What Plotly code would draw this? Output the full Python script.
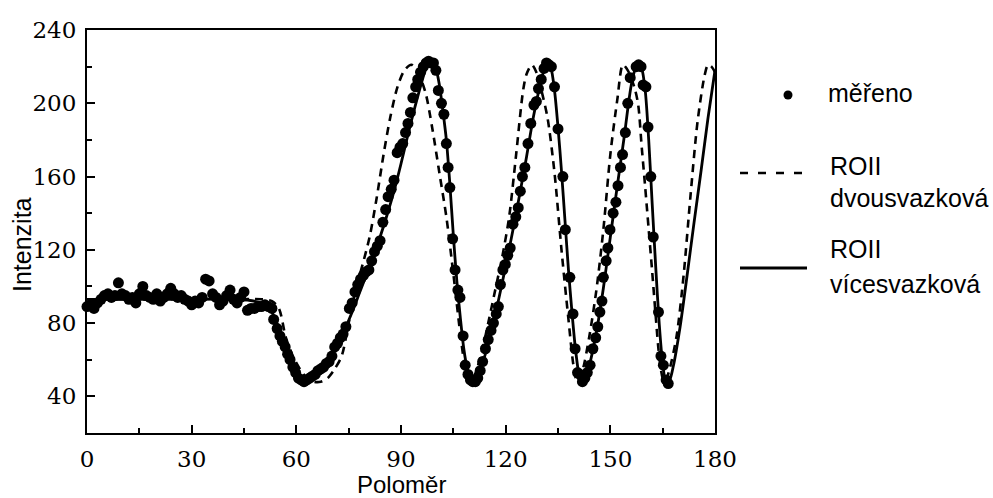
import plotly.graph_objects as go

# ---------------- data ----------------
measured_x = [
    0, 1, 2, 3, 4, 5, 6, 7, 8, 9,
    10, 11, 12, 13, 14, 15, 16, 17, 18, 19,
    20, 21, 22, 23, 24, 25, 26, 27, 28, 29,
    30, 31, 32, 33, 34, 35, 36, 37, 38, 39,
    40, 41, 42, 43, 44, 45, 46, 47, 48, 49,
    50, 51, 52, 53, 53.5, 54.5, 55.3, 56, 56.8, 57.5,
    58.2, 59, 59.8, 60.6, 61.4, 62.2, 63, 63.8, 64.6, 65.4,
    66.2, 67, 67.8, 68.6, 69.4, 70.2, 71, 71.8, 72.6, 73.4,
    74.2, 75.2, 76, 76.8, 77.6, 78.4, 79.2, 80, 80.8, 81.6,
    82.4, 83.2, 84, 84.8, 85.6, 86.3, 87.2, 88, 88.9, 89.7,
    90.5, 91.3, 92, 92.7, 93.4, 94.2, 94.8, 95.6, 96.4, 97.2,
    97.9, 98.6, 99.3, 100, 100.7, 101.6, 102.3, 103, 103.5, 104,
    104.8, 105.5, 106.3, 106.9, 107.8, 108.4, 109.2, 109.9, 110.6, 111.3,
    112, 112.7, 113.4, 114.2, 115, 115.8, 116.5, 117.3, 117.9, 118.5,
    119.2, 119.9, 120.6, 121.3, 122.1, 122.9, 123.6, 124.2, 124.8, 125.5,
    126.4, 127.2, 128.1, 128.8, 129.4, 130.2, 131, 131.7, 132.4, 133.1,
    134, 135, 136.4, 137.1, 138.4, 139.3, 139.9, 140.6, 141.3, 142,
    142.7, 143.4, 144.2, 145, 145.8, 146.4, 147, 147.6, 148, 148.8,
    149.3, 149.9, 150.8, 151.6, 152.2, 152.9, 153.5, 154.3, 155, 155.7,
    157.4, 158.1, 158.8, 159.4, 160.2, 160.8, 161.6, 162.3, 163.8, 164.5,
    165.2, 166, 166.6,
]
measured_y = [
    89, 90, 88, 91, 93, 95, 96, 94, 95, 102,
    96, 95, 93, 94, 91, 96, 100, 95, 94, 93,
    96, 92, 94, 96, 99, 96, 94, 95, 93, 92,
    90, 92, 91, 94, 104, 103, 96, 94, 90, 92,
    95, 98, 93, 91, 94, 97, 87, 88, 88, 89,
    89, 90, 89, 88, 82, 77, 73, 70, 67, 63,
    60, 56, 53, 50, 49, 48, 49, 50, 51, 52,
    54, 55, 56, 58, 59, 62, 67, 69, 72, 74,
    78, 88, 91, 97, 101, 104, 106, 108, 109, 114,
    119, 122, 125, 135, 142, 149, 153, 158, 173, 176,
    178, 184, 189, 195, 203, 209, 213, 217, 220, 222,
    223, 222, 222, 218, 207, 200, 194, 178, 165, 154,
    126, 109, 98, 94, 73, 57, 52, 49, 48, 48,
    50, 54, 59, 66, 71, 76, 80, 85, 89, 101,
    109, 112, 117, 121, 134, 138, 143, 152, 160, 165,
    178, 189, 199, 201, 208, 213, 219, 222, 221, 220,
    209, 186, 160, 131, 105, 85, 66, 53, 52, 48,
    50, 53, 57, 66, 72, 78, 86, 92, 105, 114,
    121, 131, 140, 146, 155, 165, 172, 184, 200, 214,
    220, 221, 220, 210, 209, 187, 160, 127, 86, 62,
    57, 49, 47,
]

# ROII two-beam model (dashed)
dvou_x = [0, 10, 20, 30, 40, 50, 53, 55, 57, 59, 61, 63, 65, 67, 69, 71, 73, 75, 77, 79,
          81, 83, 85, 87, 89, 91, 93, 95, 97, 99, 101, 103, 105, 107, 108, 109, 110, 111,
          113, 115, 117, 119, 121, 123, 125, 126, 127.5, 129, 130, 132, 134, 136, 138,
          139.5, 140.5, 142, 144, 146, 148, 150, 152, 153.6, 155, 157, 158, 159, 160, 161,
          162, 163, 164, 165, 165.7, 167, 169, 171, 173, 175, 177, 178, 179, 180]
dvou_y = [93, 93, 93, 93, 93, 93, 92, 88, 72, 62, 55, 50, 48, 48, 50, 55, 62, 80, 98, 112,
          127, 148, 172, 193, 209, 218, 221, 216, 206, 186, 162, 138, 107, 74, 60, 50, 48, 51,
          63, 80, 98, 116, 138, 172, 207, 216, 221, 216, 209, 192, 162, 120, 82,
          56, 48, 54, 73, 98, 131, 172, 202, 221, 218, 208, 199, 176, 154, 131,
          108, 84, 62, 50, 48, 55, 73, 106, 150, 190, 215, 221, 220, 217]

# ROII multi-beam model (solid)
vice_x = [0, 10, 20, 30, 40, 46, 50, 52, 54, 56, 58, 60, 61, 62, 63, 64, 66, 68, 70, 72,
          74, 76, 78, 80, 82, 84, 86, 88, 90, 92, 94, 96, 97, 98, 99, 100, 101, 102, 103,
          104, 105, 106, 107, 108, 109, 110, 111, 112, 114, 116, 118, 120, 122, 124, 126,
          128, 130, 131, 132, 133, 134, 135, 136, 137, 138, 139, 140, 141, 141.7, 143, 144,
          146, 148, 150, 152, 154, 155, 156, 157, 158, 159, 160, 161, 162, 163, 164, 165,
          166, 167, 168, 170, 172, 174, 176, 178, 180]
vice_y = [93, 93, 93, 93, 93, 92.5, 91, 89, 82, 72, 62, 53, 50, 48, 48.5, 50, 53, 57, 62, 69,
          77, 86, 96, 106, 116, 127, 139, 152, 167, 183, 198, 212, 218, 221.5, 222, 219, 210, 196, 180,
          156, 128, 103, 83, 66, 55, 49, 48, 51, 62, 76, 93, 111, 130, 150, 171,
          193, 211, 218, 222, 219, 207, 187, 163, 136, 109, 86, 66, 52, 48, 51, 57,
          75, 99, 127, 155, 182, 197, 210, 218, 222, 219, 207, 180, 145, 111, 80, 58,
          48, 49, 56, 78, 106, 135, 163, 192, 218]

x_ticks = [0, 30, 60, 90, 120, 150, 180]
y_ticks = [40, 80, 120, 160, 200, 240]

legend_labels = ["měřeno", "ROII", "dvousvazková", "ROII", "vícesvazková"]
x_title = "Poloměr"
y_title = "Intenzita"

assert len(measured_x) == len(measured_y)
assert len(dvou_x) == len(dvou_y)
assert len(vice_x) == len(vice_y)

# ---------------- geometry ----------------
W, H = 993, 498
L, R, T, B = 87, 715, 30, 433


def px(x):
    return (x - L) / (R - L)


def py(y):
    return (B - y) / (B - T)


fig = go.Figure()
fig.add_trace(go.Scatter(x=dvou_x, y=dvou_y, mode="lines",
                         line=dict(color="black", width=2.6, dash="8px,6px",
                                   shape="spline", smoothing=0.8),
                         showlegend=False, cliponaxis=True))
fig.add_trace(go.Scatter(x=vice_x, y=vice_y, mode="lines",
                         line=dict(color="black", width=2.8, shape="spline", smoothing=0.8),
                         showlegend=False))
fig.add_trace(go.Scatter(x=measured_x, y=measured_y, mode="markers",
                         marker=dict(color="black", size=11, line=dict(width=0)),
                         showlegend=False, cliponaxis=False))

tickfont = dict(family="DejaVu Serif", size=23, color="black")
axis_common = dict(showline=True, linecolor="black", linewidth=2, mirror=True,
                   ticks="inside", ticklen=8, tickwidth=2, tickcolor="black",
                   showgrid=False, zeroline=False, tickfont=tickfont)

fig.update_xaxes(range=[0, 180], tickvals=x_ticks, ticktext=[str(v) for v in x_ticks],
                 minor=dict(dtick=15, tick0=0, ticks="inside", ticklen=5, tickwidth=2,
                            tickcolor="black", showgrid=False),
                 ticklabelstandoff=4, **axis_common)
fig.update_yaxes(range=[20, 240], tickvals=y_ticks, ticktext=[str(v) for v in y_ticks],
                 minor=dict(dtick=20, tick0=0, ticks="inside", ticklen=5, tickwidth=2,
                            tickcolor="black", showgrid=False),
                 ticklabelstandoff=4, **axis_common)

sans = "Liberation Sans, Arial, sans-serif"
annotations = [
    dict(text=x_title, x=px(401), y=py(485), xref="paper", yref="paper",
         xanchor="center", yanchor="middle", showarrow=False,
         font=dict(family=sans, size=24, color="black")),
    dict(text=y_title, x=px(22), y=py(245), xref="paper", yref="paper",
         xanchor="center", yanchor="middle", showarrow=False, textangle=-90,
         font=dict(family=sans, size=25, color="black")),
]
leg_pos = [(826, 93), (828, 166), (828, 198), (828, 249), (828, 284)]
for lab, (lx, ly) in zip(legend_labels, leg_pos):
    annotations.append(dict(text=lab, x=px(lx), y=py(ly), xref="paper", yref="paper",
                            xanchor="left", yanchor="middle", showarrow=False,
                            font=dict(family=sans, size=25, color="black")))

shapes = [
    dict(type="circle", xref="paper", yref="paper", xsizemode="pixel", ysizemode="pixel",
         xanchor=px(788), yanchor=py(95), x0=-4.5, x1=4.5, y0=-4.5, y1=4.5,
         fillcolor="black", line=dict(width=0)),
    dict(type="line", xref="paper", yref="paper", x0=px(740), x1=px(806), y0=py(173), y1=py(173),
         line=dict(color="black", width=2.6, dash="8px,10px")),
    dict(type="line", xref="paper", yref="paper", x0=px(740), x1=px(807), y0=py(268), y1=py(268),
         line=dict(color="black", width=2.8)),
]

fig.update_layout(width=W, height=H, margin=dict(l=L, r=W - R, t=T, b=H - B),
                  paper_bgcolor="white", plot_bgcolor="white",
                  annotations=annotations, shapes=shapes, showlegend=False)

fig.write_html("out.html")
